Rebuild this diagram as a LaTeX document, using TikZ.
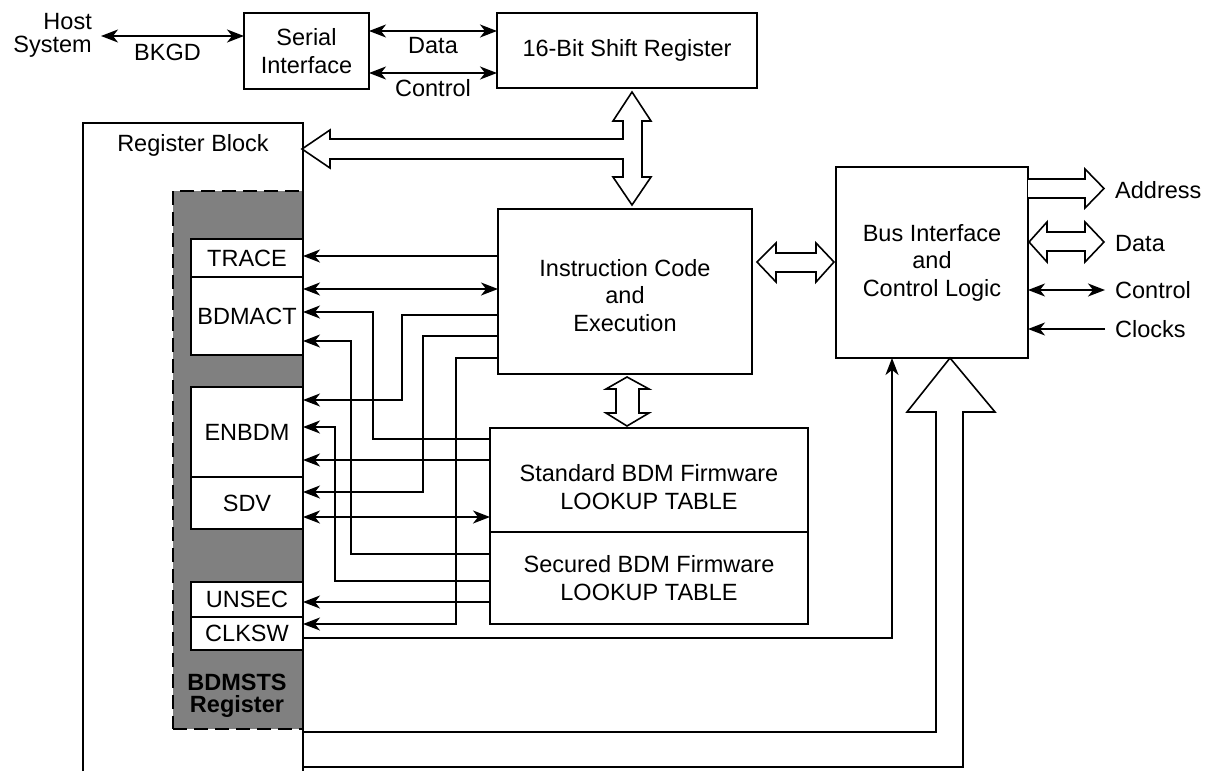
\documentclass[tikz,border=0pt]{standalone}
\usepackage{fontspec}
\setmainfont{Liberation Sans}
\usetikzlibrary{arrows.meta}
\definecolor{stsgray}{HTML}{808080}

\begin{document}
\begin{tikzpicture}[
    x=1pt, y=-1pt,
    every node/.style={font=\fontsize{23.5}{27.5}\selectfont},
    base/.style={draw, line width=1.6pt, inner sep=0pt, outer sep=0pt, align=center},
    block/.style={base, fill=white},
    reg/.style={base, fill=white, minimum width=112pt},
    lbl/.style={inner sep=0pt, align=center},
    wire/.style={line width=1.6pt},
    arrow/.style={wire, -{Stealth[length=17pt, width=13pt, inset=5pt]}},
    biarrow/.style={wire, {Stealth[length=17pt, width=13pt, inset=5pt]}-{Stealth[length=17pt, width=13pt, inset=5pt]}},
    hollow/.style={wire, draw, fill=white, line join=miter}
]
    \useasboundingbox (0,0) rectangle (1207,771);

    % Nodes
    \node (host) [lbl, anchor=east, align=right, font=\fontsize{23.5}{23}\selectfont] at (92,35) {Host\\System};
    \node (serial) [block, minimum width=125pt, minimum height=76pt] at (306.5,51) {Serial\\Interface};
    \node (shift) [block, minimum width=260pt, minimum height=75pt] at (627,50.5) {16-Bit Shift Register};

    \node (sts) [base, fill=stsgray, dash pattern=on 14pt off 7pt, minimum width=130pt, minimum height=538pt] at (238,460) {};
    \draw [wire] (83,771) |- (303,123) -- (303,771);
    \node (regblk) [lbl] at (193,145) {Register Block};
    \node (trace) [reg, minimum height=38pt] at (247,258) {TRACE};
    \node (bdmact) [reg, minimum height=78pt] at (247,316) {BDMACT};
    \node (enbdm) [reg, minimum height=90pt] at (247,432) {ENBDM};
    \node (sdv) [reg, minimum height=52pt] at (247,503) {SDV};
    \node (unsec) [reg, minimum height=35pt] at (247,599.5) {UNSEC};
    \node (clksw) [reg, minimum height=33pt] at (247,633.5) {CLKSW};
    \node (stslbl) [lbl, font=\bfseries\fontsize{23.5}{22}\selectfont] at (237,696) {BDMSTS\\Register};

    \node (ice) [block, minimum width=254pt, minimum height=165pt] at (625,291.5) {\rule{0pt}{25pt}Instruction Code\\and\\Execution};
    \node (bus) [block, minimum width=192pt, minimum height=191pt] at (932,262.5) {Bus Interface\\and\\Control Logic};
    \node (std) [block, minimum width=318pt, minimum height=104pt] at (649,480) {\rule{0pt}{31pt}Standard BDM Firmware\\LOOKUP TABLE};
    \node (sec) [block, minimum width=318pt, minimum height=92pt] at (649,578) {Secured BDM Firmware\\LOOKUP TABLE};

    \node (addr) [lbl, anchor=west] at (1115,190) {Address};
    \node (data) [lbl, anchor=west] at (1115,244) {Data};
    \node (ctrl) [lbl, anchor=west] at (1115,290) {Control};
    \node (clk) [lbl, anchor=west] at (1115,329) {Clocks};

    % Paths
    \draw [biarrow] ([xshift=9pt]host.east |- 0,36) -- (serial.west |- 0,36) node [lbl, midway, below=7pt, xshift=-5pt] {BKGD};
    \draw [biarrow] (serial.east |- 0,31) -- (shift.west |- 0,31) node [lbl, midway, below=6pt] {Data};
    \draw [biarrow] (serial.east |- 0,73) -- (shift.west |- 0,73) node [lbl, midway, below=6pt] {Control};

    % buses
    \draw [hollow] (632,92) -- (651,121) -- (642,121) -- (642,177) -- (651,177) -- (632,205) -- (613,177) -- (623,177) -- (623,159) -- (330,159) -- (330,168) -- (302,149) -- (330,130) -- (330,139) -- (623,139) -- (623,121) -- (613,121) -- cycle;
    \draw [hollow] (757,262) -- (776,243) -- (776,253) -- (816,253) -- (816,243) -- (834,262) -- (816,282) -- (816,272) -- (776,272) -- (776,282) -- cycle;
    \draw [hollow] (627,377) -- (649,389) -- (639,389) -- (639,413) -- (649,413) -- (627,426) -- (606,413) -- (616,413) -- (616,389) -- (606,389) -- cycle;
    \draw [hollow] (bus.east |- 0,179) -- (1085,179) -- (1085,169) -- (1104,188.5) -- (1085,208) -- (1085,198) -- (bus.east |- 0,198);
    \draw [hollow] (1029,242) -- (1047,222) -- (1047,232) -- (1085,232) -- (1085,222) -- (1104,242) -- (1085,262) -- (1085,251) -- (1047,251) -- (1047,262) -- cycle;
    \draw [biarrow] (bus.east |- ctrl) -- ([xshift=-10pt]ctrl.west);
    \draw [arrow] ([xshift=-10pt]clk.west) -- (bus.east |- clk);

    % register bits
    \draw [arrow] (ice.west |- 0,256) -- (trace.east |- 0,256);
    \draw [biarrow] (bdmact.east |- 0,289) -- (ice.west |- 0,289);
    \draw [arrow] (std.west |- 0,439) -| (373,312) -- (bdmact.east |- 0,312);
    \draw [arrow] (sec.west |- 0,554) -| (351,341) -- (bdmact.east |- 0,341);
    \draw [arrow] (ice.west |- 0,315) -| (402,400) -- (enbdm.east |- 0,400);
    \draw [arrow] (ice.west |- 0,336) -| (423,492) -- (sdv.east |- 0,492);
    \draw [arrow] (ice.west |- 0,358) -| (456,624) -- (clksw.east |- 0,624);
    \draw [arrow] (sec.west |- 0,581) -| (335,427) -- (enbdm.east |- 0,427);
    \draw [arrow] (std.west |- 0,460) -- (enbdm.east |- 0,460);
    \draw [biarrow] (sdv.east |- 0,517) -- (std.west |- 0,517);
    \draw [arrow] (sec.west |- 0,602) -- (unsec.east |- 0,602);
    \draw [arrow] (clksw.east |- 0,638) -| ([xshift=-40pt]bus.south);
    \draw [wire, line join=miter] (303,732) -| (936,412) -- (907,412) -- (950,358) -- (995,412) -- (963,412) |- (303,767);
\end{tikzpicture}
\end{document}
